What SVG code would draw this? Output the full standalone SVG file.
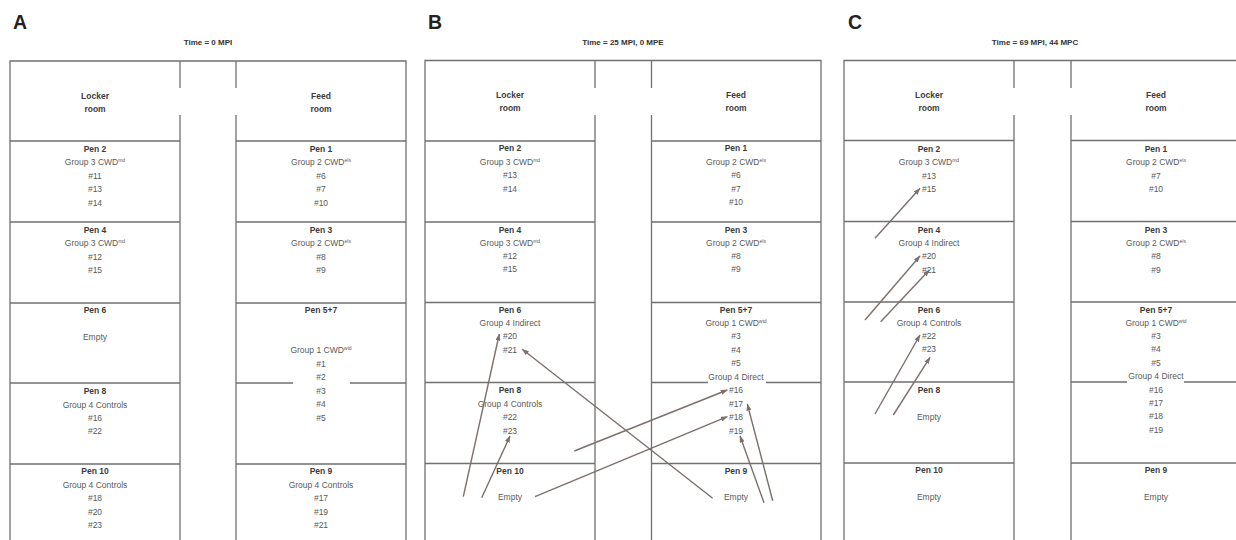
<svg xmlns="http://www.w3.org/2000/svg" width="1236" height="540" viewBox="0 0 1236 540">
<defs>
<style>
.t{font-family:"Liberation Sans",Arial,sans-serif;font-size:8.5px;fill:#5a5a5a;text-anchor:middle}
.b{font-weight:bold;fill:#3c3c3c}
.s{font-size:5px}
.h{font-family:"Liberation Sans",Arial,sans-serif;font-weight:bold;font-size:19.5px;fill:#222}
.tm{font-family:"Liberation Sans",Arial,sans-serif;font-weight:bold;font-size:8px;fill:#333;text-anchor:middle}
.w{stroke:#707070;stroke-width:1.3;fill:none}
.a{stroke:#7b706b;stroke-width:1.4;fill:none;marker-end:url(#ah)}
</style>
<marker id="ah" markerUnits="userSpaceOnUse" markerWidth="7" markerHeight="5" refX="6.5" refY="2.5" orient="auto">
<path d="M0,0 L7,2.5 L0,5 z" fill="#7b706b"/>
</marker>
</defs>
<rect width="1236" height="540" fill="#fff"/>

<!-- Panel A -->
<g id="panelA">
<text class="h" x="13" y="29">A</text>
<text class="tm" x="208" y="45">Time = 0 MPI</text>
<g transform="translate(10,0)">
<g id="A-walls">
<path class="w" d="M0,540 V61 H396 V540 M170,61 V88 M170,115 V540 M226,61 V88 M226,115 V540 M0,141 H170 M0,222 H170 M0,303 H170 M0,383 H170 M0,464 H170 M226,141 H396 M226,222 H396 M226,303 H396 M226,464 H396 M226,383 H283 M340,383 H396"/>
</g>
<g id="A-locker"><text class="t b" x="85" y="99">Locker</text><text class="t b" x="85" y="112">room</text></g>
<g id="A-feed"><text class="t b" x="311" y="99">Feed</text><text class="t b" x="311" y="112">room</text></g>
<g id="A-pen2"><text class="t b" x="85" y="152">Pen 2</text><text class="t" x="85" y="165">Group 3 CWD<tspan class="s" dy="-3">md</tspan></text><text class="t" x="85" y="179">#11</text><text class="t" x="85" y="192">#13</text><text class="t" x="85" y="206">#14</text></g>
<g id="A-pen4"><text class="t b" x="85" y="233">Pen 4</text><text class="t" x="85" y="246">Group 3 CWD<tspan class="s" dy="-3">md</tspan></text><text class="t" x="85" y="260">#12</text><text class="t" x="85" y="273">#15</text></g>
<g id="A-pen6"><text class="t b" x="85" y="313">Pen 6</text><text class="t" x="85" y="340">Empty</text></g>
<g id="A-pen8"><text class="t b" x="85" y="394">Pen 8</text><text class="t" x="85" y="407.5">Group 4 Controls</text><text class="t" x="85" y="421">#16</text><text class="t" x="85" y="434">#22</text></g>
<g id="A-pen10"><text class="t b" x="85" y="474">Pen 10</text><text class="t" x="85" y="488">Group 4 Controls</text><text class="t" x="85" y="501">#18</text><text class="t" x="85" y="515">#20</text><text class="t" x="85" y="528">#23</text></g>
<g id="A-pen1"><text class="t b" x="311" y="152">Pen 1</text><text class="t" x="311" y="165">Group 2 CWD<tspan class="s" dy="-3">els</tspan></text><text class="t" x="311" y="179">#6</text><text class="t" x="311" y="192">#7</text><text class="t" x="311" y="206">#10</text></g>
<g id="A-pen3"><text class="t b" x="311" y="233">Pen 3</text><text class="t" x="311" y="246">Group 2 CWD<tspan class="s" dy="-3">els</tspan></text><text class="t" x="311" y="260">#8</text><text class="t" x="311" y="273">#9</text></g>
<g id="A-pen57"><text class="t b" x="311" y="313">Pen 5+7</text><text class="t" x="311" y="353">Group 1 CWD<tspan class="s" dy="-3">wtd</tspan></text><text class="t" x="311" y="367">#1</text><text class="t" x="311" y="380">#2</text><text class="t" x="311" y="394">#3</text><text class="t" x="311" y="407">#4</text><text class="t" x="311" y="421">#5</text></g>
<g id="A-pen9"><text class="t b" x="311" y="474">Pen 9</text><text class="t" x="311" y="488">Group 4 Controls</text><text class="t" x="311" y="501">#17</text><text class="t" x="311" y="515">#19</text><text class="t" x="311" y="528">#21</text></g>
</g>
</g>

<!-- Panel B -->
<g id="panelB">
<text class="h" x="428" y="29">B</text>
<text class="tm" x="623" y="45">Time = 25 MPI, 0 MPE</text>
<g transform="translate(425,0)">
<g id="B-walls">
<path class="w" d="M0,540 V60.5 H396 V540 M170,60.5 V88 M170,115 V540 M226.5,60.5 V88 M226.5,115 V540 M0,141 H170 M0,222 H170 M0,302.5 H170 M0,382.5 H170 M0,463.5 H170 M226.5,141 H396 M226.5,222 H396 M226.5,302.5 H396 M226.5,463.5 H396 M226.5,382.5 H283 M341,382.5 H396"/>
</g>
<g id="B-locker"><text class="t b" x="85" y="98">Locker</text><text class="t b" x="85" y="111">room</text></g>
<g id="B-feed"><text class="t b" x="311" y="98">Feed</text><text class="t b" x="311" y="111">room</text></g>
<g id="B-pen2"><text class="t b" x="85" y="151">Pen 2</text><text class="t" x="85" y="165">Group 3 CWD<tspan class="s" dy="-3">md</tspan></text><text class="t" x="85" y="178">#13</text><text class="t" x="85" y="192">#14</text></g>
<g id="B-pen4"><text class="t b" x="85" y="233">Pen 4</text><text class="t" x="85" y="246">Group 3 CWD<tspan class="s" dy="-3">md</tspan></text><text class="t" x="85" y="259">#12</text><text class="t" x="85" y="272">#15</text></g>
<g id="B-pen6"><text class="t b" x="85" y="313">Pen 6</text><text class="t" x="85" y="326">Group 4 Indirect</text><text class="t" x="85" y="339">#20</text><text class="t" x="85" y="353">#21</text></g>
<g id="B-pen8"><text class="t b" x="85" y="393">Pen 8</text><text class="t" x="85" y="407">Group 4 Controls</text><text class="t" x="85" y="420">#22</text><text class="t" x="85" y="434">#23</text></g>
<g id="B-pen10"><text class="t b" x="85" y="474">Pen 10</text><text class="t" x="85" y="500">Empty</text></g>
<g id="B-pen1"><text class="t b" x="311" y="151">Pen 1</text><text class="t" x="311" y="165">Group 2 CWD<tspan class="s" dy="-3">els</tspan></text><text class="t" x="311" y="178">#6</text><text class="t" x="311" y="192">#7</text><text class="t" x="311" y="205">#10</text></g>
<g id="B-pen3"><text class="t b" x="311" y="233">Pen 3</text><text class="t" x="311" y="246">Group 2 CWD<tspan class="s" dy="-3">els</tspan></text><text class="t" x="311" y="259">#8</text><text class="t" x="311" y="272">#9</text></g>
<g id="B-pen57"><text class="t b" x="311" y="313">Pen 5+7</text><text class="t" x="311" y="326">Group 1 CWD<tspan class="s" dy="-3">wtd</tspan></text><text class="t" x="311" y="339">#3</text><text class="t" x="311" y="353">#4</text><text class="t" x="311" y="366">#5</text><text class="t" x="311" y="380">Group 4 Direct</text><text class="t" x="311" y="393">#16</text><text class="t" x="311" y="407">#17</text><text class="t" x="311" y="420">#18</text><text class="t" x="311" y="434">#19</text></g>
<g id="B-pen9"><text class="t b" x="311" y="474">Pen 9</text><text class="t" x="311" y="500">Empty</text></g>
</g>
</g>

<!-- Panel C -->
<g id="panelC">
<text class="h" x="848" y="29">C</text>
<text class="tm" x="1035" y="45">Time = 69 MPI, 44 MPC</text>
<g transform="translate(844,0)">
<g id="C-walls">
<path class="w" d="M0,540 V60.5 H400 M170,60.5 V88 M170,115 V540 M227,60.5 V88 M227,115 V540 M0,140.5 H170 M0,221.5 H170 M0,302 H170 M0,382 H170 M0,463 H170 M227,140.5 H400 M227,221.5 H400 M227,302 H400 M227,463 H400 M227,382 H283 M340,382 H400"/>
</g>
<g id="C-locker"><text class="t b" x="85" y="98">Locker</text><text class="t b" x="85" y="111">room</text></g>
<g id="C-feed"><text class="t b" x="312" y="98">Feed</text><text class="t b" x="312" y="111">room</text></g>
<g id="C-pen2"><text class="t b" x="85" y="152">Pen 2</text><text class="t" x="85" y="165">Group 3 CWD<tspan class="s" dy="-3">md</tspan></text><text class="t" x="85" y="179">#13</text><text class="t" x="85" y="192">#15</text></g>
<g id="C-pen4"><text class="t b" x="85" y="233">Pen 4</text><text class="t" x="85" y="246">Group 4 Indirect</text><text class="t" x="85" y="259">#20</text><text class="t" x="85" y="273">#21</text></g>
<g id="C-pen6"><text class="t b" x="85" y="313">Pen 6</text><text class="t" x="85" y="326">Group 4 Controls</text><text class="t" x="85" y="339">#22</text><text class="t" x="85" y="352">#23</text></g>
<g id="C-pen8"><text class="t b" x="85" y="393">Pen 8</text><text class="t" x="85" y="419.5">Empty</text></g>
<g id="C-pen10"><text class="t b" x="85" y="473">Pen 10</text><text class="t" x="85" y="500">Empty</text></g>
<g id="C-pen1"><text class="t b" x="312" y="152">Pen 1</text><text class="t" x="312" y="165">Group 2 CWD<tspan class="s" dy="-3">els</tspan></text><text class="t" x="312" y="179">#7</text><text class="t" x="312" y="192">#10</text></g>
<g id="C-pen3"><text class="t b" x="312" y="233">Pen 3</text><text class="t" x="312" y="246">Group 2 CWD<tspan class="s" dy="-3">els</tspan></text><text class="t" x="312" y="259">#8</text><text class="t" x="312" y="273">#9</text></g>
<g id="C-pen57"><text class="t b" x="312" y="313">Pen 5+7</text><text class="t" x="312" y="326">Group 1 CWD<tspan class="s" dy="-3">wtd</tspan></text><text class="t" x="312" y="339">#3</text><text class="t" x="312" y="352">#4</text><text class="t" x="312" y="366">#5</text><text class="t" x="312" y="379">Group 4 Direct</text><text class="t" x="312" y="393">#16</text><text class="t" x="312" y="406">#17</text><text class="t" x="312" y="419">#18</text><text class="t" x="312" y="433">#19</text></g>
<g id="C-pen9"><text class="t b" x="312" y="473">Pen 9</text><text class="t" x="312" y="500">Empty</text></g>
</g>
</g>

<!-- Connectors -->
<g id="connectors">
<line class="a" x1="463.3" y1="496.7" x2="499.3" y2="334"/>
<line class="a" x1="481.7" y1="497.7" x2="510" y2="436"/>
<line class="a" x1="535" y1="496.7" x2="727.3" y2="416.7"/>
<line class="a" x1="574.3" y1="451" x2="727.3" y2="390"/>
<line class="a" x1="712.7" y1="498.3" x2="522.3" y2="349.3"/>
<line class="a" x1="764" y1="502.7" x2="740" y2="436"/>
<line class="a" x1="772.7" y1="500.7" x2="747.3" y2="404"/>
<line class="a" x1="875" y1="238.3" x2="920" y2="188.3"/>
<line class="a" x1="865" y1="320" x2="920" y2="256"/>
<line class="a" x1="880.7" y1="321.7" x2="929.3" y2="270"/>
<line class="a" x1="875" y1="414" x2="920" y2="335"/>
<line class="a" x1="893.3" y1="415" x2="930" y2="357.3"/>
</g>
</svg>
